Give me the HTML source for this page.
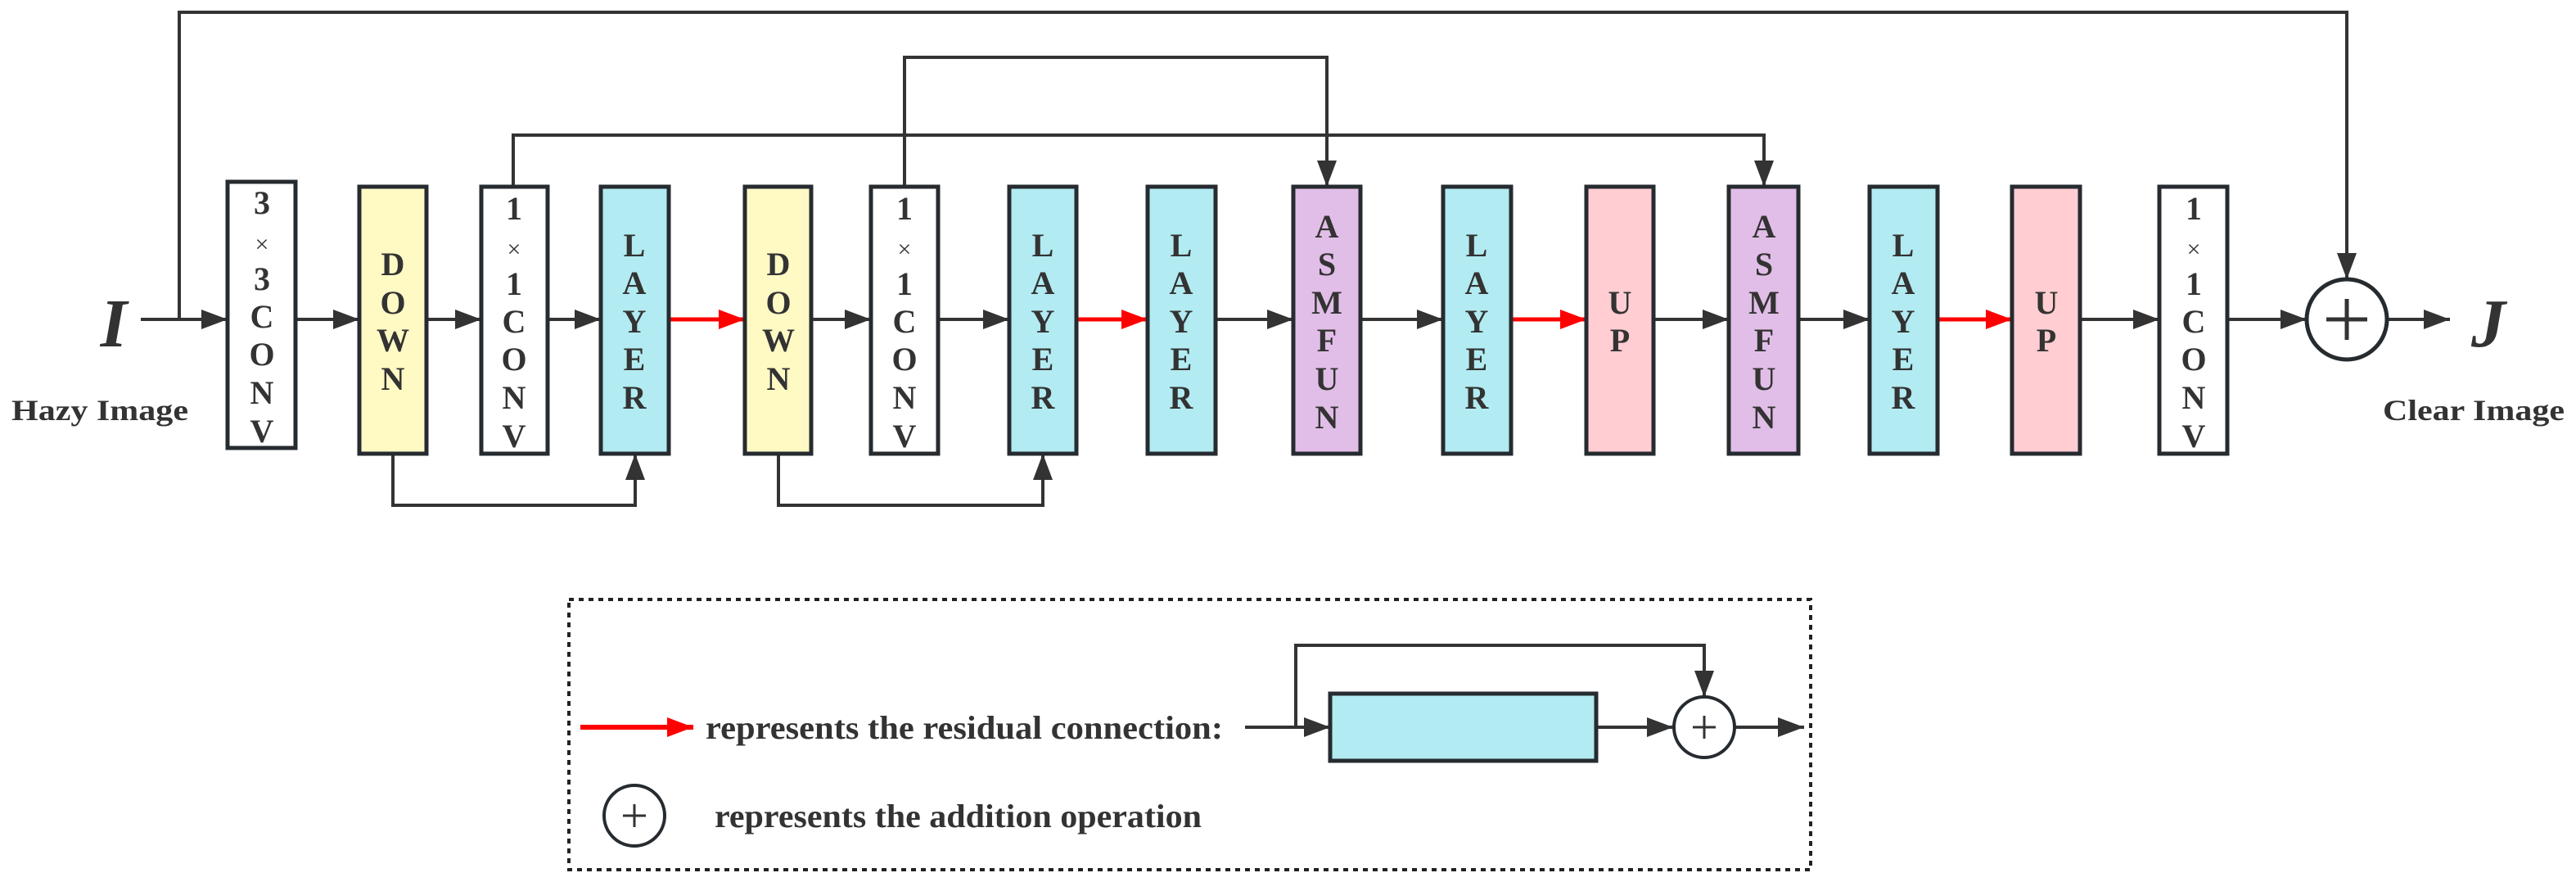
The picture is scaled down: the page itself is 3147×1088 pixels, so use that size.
<!DOCTYPE html>
<html><head><meta charset="utf-8"><style>html,body{margin:0;padding:0;background:#fff}svg{display:block}svg text{font-family:"Liberation Serif","Times New Roman",serif;font-weight:bold}</style></head><body>
<svg width="3147" height="1088" viewBox="0 0 3147 1088" xmlns="http://www.w3.org/2000/svg">
<defs>
<marker id="a" markerUnits="userSpaceOnUse" markerWidth="32" markerHeight="24" refX="32" refY="12" orient="auto"><path d="M0,0 L32,12 L0,24 z" fill="#333"/></marker>
<marker id="r" markerUnits="userSpaceOnUse" markerWidth="32" markerHeight="24" refX="32" refY="12" orient="auto"><path d="M0,0 L32,12 L0,24 z" fill="#f00"/></marker>
</defs>
<g stroke="#333" stroke-width="4" fill="none">
<polyline points="219,390 219,15 2867,15 2867,341" marker-end="url(#a)"/>
<polyline points="627,228 627,165 2155,165 2155,228" marker-end="url(#a)"/>
<polyline points="1105,228 1105,70 1621,70 1621,228" marker-end="url(#a)"/>
<polyline points="480,554 480,617 776,617 776,554" marker-end="url(#a)"/>
<polyline points="951,554 951,617 1274,617 1274,554" marker-end="url(#a)"/>
<line x1="172" y1="390" x2="278" y2="390" marker-end="url(#a)"/>
<line x1="361" y1="390" x2="439" y2="390" marker-end="url(#a)"/>
<line x1="521" y1="390" x2="588" y2="390" marker-end="url(#a)"/>
<line x1="669" y1="390" x2="734" y2="390" marker-end="url(#a)"/>
<line x1="991" y1="390" x2="1064" y2="390" marker-end="url(#a)"/>
<line x1="1146" y1="390" x2="1233" y2="390" marker-end="url(#a)"/>
<line x1="1485" y1="390" x2="1580" y2="390" marker-end="url(#a)"/>
<line x1="1662" y1="390" x2="1763" y2="390" marker-end="url(#a)"/>
<line x1="2020" y1="390" x2="2112" y2="390" marker-end="url(#a)"/>
<line x1="2197" y1="390" x2="2284" y2="390" marker-end="url(#a)"/>
<line x1="2541" y1="390" x2="2638" y2="390" marker-end="url(#a)"/>
<line x1="2721" y1="390" x2="2818" y2="390" marker-end="url(#a)"/>
<line x1="2916" y1="390" x2="2993" y2="390" marker-end="url(#a)"/>
</g>
<g stroke="#f00" stroke-width="5">
<line x1="817" y1="390" x2="910" y2="390" marker-end="url(#r)"/>
<line x1="1315" y1="390" x2="1402" y2="390" marker-end="url(#r)"/>
<line x1="1846" y1="390" x2="1938" y2="390" marker-end="url(#r)"/>
<line x1="2367" y1="390" x2="2458" y2="390" marker-end="url(#r)"/>
</g>
<g stroke="#262b30" stroke-width="5">
<rect x="278" y="222" width="83" height="325" fill="#fff"/>
<rect x="439" y="228" width="82" height="326" fill="#fff9c4"/>
<rect x="588" y="228" width="81" height="326" fill="#fff"/>
<rect x="734" y="228" width="83" height="326" fill="#b2ebf2"/>
<rect x="910" y="228" width="81" height="326" fill="#fff9c4"/>
<rect x="1064" y="228" width="82" height="326" fill="#fff"/>
<rect x="1233" y="228" width="82" height="326" fill="#b2ebf2"/>
<rect x="1402" y="228" width="83" height="326" fill="#b2ebf2"/>
<rect x="1580" y="228" width="82" height="326" fill="#e1bee7"/>
<rect x="1763" y="228" width="83" height="326" fill="#b2ebf2"/>
<rect x="1938" y="228" width="82" height="326" fill="#ffcdd2"/>
<rect x="2112" y="228" width="85" height="326" fill="#e1bee7"/>
<rect x="2284" y="228" width="83" height="326" fill="#b2ebf2"/>
<rect x="2458" y="228" width="83" height="326" fill="#ffcdd2"/>
<rect x="2638" y="228" width="83" height="326" fill="#fff"/>
<circle cx="2867" cy="390" r="49" fill="#fff"/>
</g>
<g stroke="#333" stroke-width="5"><line x1="2842" y1="390" x2="2892" y2="390"/><line x1="2867" y1="365" x2="2867" y2="415"/></g>
<g fill="#333" font-size="40" text-anchor="middle">
<text x="320" y="261">3</text><text x="320" y="308" font-size="30" style="font-weight:normal">×</text><text x="320" y="354">3</text><text x="320" y="400">C</text><text x="320" y="446">O</text><text x="320" y="493">N</text><text x="320" y="540">V</text>
<g id="c1"><text x="628" y="268">1</text><text x="628" y="314" font-size="30" style="font-weight:normal">×</text><text x="628" y="360">1</text><text x="628" y="406">C</text><text x="628" y="452">O</text><text x="628" y="499">N</text><text x="628" y="546">V</text></g>
<use href="#c1" x="477"/><use href="#c1" x="2052"/>
<g id="d1"><text x="480" y="336">D</text><text x="480" y="383">O</text><text x="480" y="429">W</text><text x="480" y="476">N</text></g>
<use href="#d1" x="471"/>
<g id="l1"><text x="775" y="313">L</text><text x="775" y="359">A</text><text x="775" y="406">Y</text><text x="775" y="452">E</text><text x="775" y="499">R</text></g>
<use href="#l1" x="499"/><use href="#l1" x="668"/><use href="#l1" x="1029"/><use href="#l1" x="1550"/>
<g id="m1"><text x="1621" y="290">A</text><text x="1621" y="336">S</text><text x="1621" y="383">M</text><text x="1621" y="429">F</text><text x="1621" y="476">U</text><text x="1621" y="523">N</text></g>
<use href="#m1" x="534"/>
<g id="u1"><text x="1979" y="383">U</text><text x="1979" y="429">P</text></g>
<use href="#u1" x="521"/>
</g>
<text x="139" y="423" font-size="84" font-style="italic" fill="#333" text-anchor="middle">I</text>
<text x="3040" y="423" font-size="84" font-style="italic" fill="#333" text-anchor="middle">J</text>
<text x="14" y="513" font-size="36" fill="#333" textLength="216" lengthAdjust="spacingAndGlyphs">Hazy Image</text>
<text x="2911" y="513" font-size="36" fill="#333" textLength="222" lengthAdjust="spacingAndGlyphs">Clear Image</text>
<rect x="695" y="732" width="1517" height="330" fill="none" stroke="#222" stroke-width="4" stroke-dasharray="6,6"/>
<line x1="709" y1="888" x2="847" y2="888" stroke="#f00" stroke-width="6" marker-end="url(#r)"/>
<text x="862" y="902" font-size="40" fill="#333" textLength="632" lengthAdjust="spacingAndGlyphs">represents the residual connection:</text>
<g stroke="#333" stroke-width="4" fill="none">
<line x1="1521" y1="888" x2="1625" y2="888" marker-end="url(#a)"/>
<polyline points="1583,888 1583,788 2082,788 2082,851" marker-end="url(#a)"/>
<line x1="1950" y1="888" x2="2044" y2="888" marker-end="url(#a)"/>
<line x1="2120" y1="888" x2="2204" y2="888" marker-end="url(#a)"/>
</g>
<rect x="1625" y="847" width="325" height="82" fill="#b2ebf2" stroke="#262b30" stroke-width="5"/>
<circle cx="2082" cy="888" r="37" fill="#fff" stroke="#262b30" stroke-width="4"/>
<g stroke="#333" stroke-width="3"><line x1="2068" y1="888" x2="2096" y2="888"/><line x1="2082" y1="874" x2="2082" y2="902"/>
<line x1="761" y1="996" x2="789" y2="996"/><line x1="775" y1="982" x2="775" y2="1010"/></g>
<circle cx="775" cy="996" r="37" fill="none" stroke="#262b30" stroke-width="4"/>
<text x="873" y="1010" font-size="40" fill="#333" textLength="595" lengthAdjust="spacingAndGlyphs">represents the addition operation</text>
</svg>
</body></html>
